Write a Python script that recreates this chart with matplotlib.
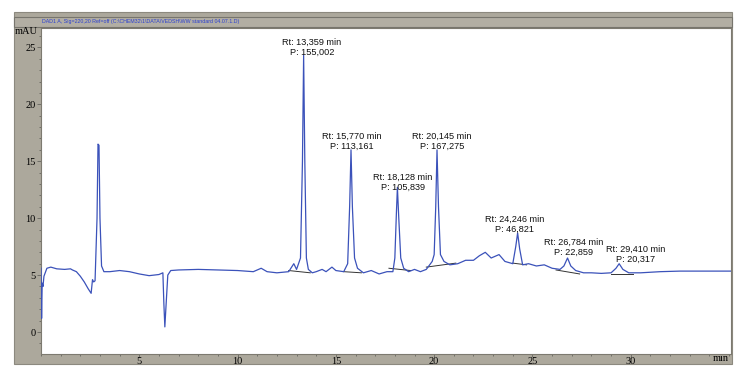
import matplotlib
matplotlib.use("Agg")
import matplotlib.pyplot as plt
from matplotlib.patches import Rectangle
from matplotlib.ticker import MultipleLocator

# chromatogram trace (time in min, signal in mAU)
time = [0.00, 0.03, 0.06, 0.10, 0.15, 0.30, 0.50, 0.80, 1.20, 1.50, 1.60, 1.80, 2.00, 2.20, 2.40,
        2.55, 2.62, 2.68, 2.75, 2.85, 2.90, 2.95, 3.00, 3.08, 3.20, 3.50, 4.00, 4.50, 5.00, 5.50,
        6.00, 6.20, 6.25, 6.30, 6.35, 6.45, 6.60, 7.00, 8.00, 9.00, 10.0, 10.8, 11.2, 11.5, 12.0,
        12.6, 12.86, 13.0, 13.2, 13.3, 13.36, 13.42, 13.5, 13.6, 13.8, 14.0, 14.3, 14.5, 14.8, 15.0,
        15.4, 15.6, 15.70, 15.77, 15.84, 15.95, 16.1, 16.4, 16.8, 17.2, 17.6, 17.9, 18.0, 18.08, 18.13,
        18.2, 18.3, 18.45, 18.7, 19.0, 19.3, 19.6, 19.9, 20.0, 20.08, 20.145, 20.22, 20.32, 20.5, 20.8,
        21.2, 21.6, 22.0, 22.3, 22.6, 22.9, 23.3, 23.6, 24.0, 24.15, 24.246, 24.35, 24.5, 24.8, 25.2,
        25.6, 26.0, 26.4, 26.6, 26.784, 26.95, 27.2, 27.6, 28.0, 28.5, 29.0, 29.25, 29.41, 29.6, 29.9,
        30.5, 31.5, 32.5, 33.5, 35.1]
signal = [5.6, 1.2, 4.3, 4.0, 4.9, 5.6, 5.7, 5.55, 5.5, 5.55, 5.45, 5.3, 4.9, 4.4, 3.8,
          3.4, 4.6, 4.4, 4.5, 10.0, 16.5, 16.4, 10.0, 5.8, 5.3, 5.3, 5.4, 5.3, 5.1, 4.95,
          5.05, 5.2, 2.5, 0.45, 2.0, 5.0, 5.4, 5.45, 5.5, 5.45, 5.4, 5.3, 5.6, 5.3, 5.2,
          5.3, 6.0, 5.5, 6.5, 15.0, 24.3, 15.0, 6.5, 5.5, 5.2, 5.3, 5.5, 5.3, 5.7, 5.4,
          5.3, 6.0, 11.0, 16.0, 11.0, 6.5, 5.6, 5.2, 5.4, 5.1, 5.3, 5.3, 6.5, 10.5, 12.7,
          10.0, 6.5, 5.6, 5.3, 5.5, 5.3, 5.5, 6.2, 6.8, 11.0, 16.0, 11.0, 6.8, 6.2, 5.9,
          6.0, 6.3, 6.3, 6.7, 7.0, 6.5, 6.8, 6.2, 6.0, 7.5, 8.7, 7.3, 5.9, 6.0, 5.8,
          5.9, 5.6, 5.5, 5.8, 6.5, 5.8, 5.4, 5.2, 5.2, 5.15, 5.2, 5.6, 6.0, 5.5, 5.2,
          5.2, 5.3, 5.35, 5.35, 5.35]

# integrated peaks: retention time, area, label position
peak_rt = [13.359, 15.770, 18.128, 20.145, 24.246, 26.784, 29.410]
peak_area = [155.002, 113.161, 105.839, 167.275, 46.821, 22.859, 20.317]
label_x = [13.78, 15.80, 18.40, 20.40, 24.10, 27.10, 30.25]
label_y = [25.8, 17.6, 14.0, 17.6, 10.3, 8.3, 7.7]

# integration baselines under each peak
base_x0 = [12.6, 15.4, 17.7, 19.6, 24.0, 26.2, 29.0]
base_y0 = [5.4, 5.3, 5.6, 5.7, 6.05, 5.45, 5.1]
base_x1 = [13.7, 16.3, 18.8, 21.1, 24.7, 27.4, 30.1]
base_y1 = [5.2, 5.2, 5.4, 6.05, 5.9, 5.1, 5.1]

title = r"DAD1 A, Sig=220,20 Ref=off (C:\CHEM32\1\DATA\VEDSH\WW standard 04.07.1.D)"

W, H = 749, 380
fig = plt.figure(figsize=(W / 100, H / 100), dpi=100, facecolor="white")

# gray instrument frame + title bar (drawn on a background axes)
bg = fig.add_axes([0, 0, 1, 1], zorder=0)
bg.set_xlim(0, W)
bg.set_ylim(H, 0)
bg.axis("off")
bg.add_patch(Rectangle((14, 12), 732 - 14, 364 - 12, facecolor="#aca89c",
                       edgecolor="#8c897f", linewidth=0.8))
bg.add_patch(Rectangle((14, 17), 732 - 14, 10, facecolor="#b2aea3",
                       edgecolor="#77756d", linewidth=0.8))
bg.text(42, 22, title, color="#2b3fd0", fontsize=3.8, family="Liberation Sans",
        va="center", ha="left")
bg.text(38, 32, "mAU", fontsize=7.5, family="Liberation Serif", ha="right", va="center")
bg.text(729, 358.5, "min", fontsize=7.5, family="Liberation Serif", ha="right", va="center")

ax = fig.add_axes([41 / W, 1 - 354 / H, (731 - 41) / W, (354 - 28) / H], zorder=2)
ax.set_facecolor("white")
ax.plot(time, signal, color="#3b52ba", linewidth=0.9, zorder=3)
for x0, y0, x1, y1 in zip(base_x0, base_y0, base_x1, base_y1):
    ax.plot([x0, x1], [y0, y1], color="#333333", linewidth=0.7, zorder=2)

for rt, area, lx, ly in zip(peak_rt, peak_area, label_x, label_y):
    txt = "Rt: " + f"{rt:.3f}".replace(".", ",") + " min\nP: " + f"{area:.3f}".replace(".", ",")
    ax.text(lx, ly, txt, ha="center", va="top", fontsize=6.6, family="Liberation Sans",
            linespacing=1.15, color="#111111", zorder=4)

ax.set_xlim(0, 35.1)
ax.set_ylim(-1.93, 26.7)
ax.set_xticks([5, 10, 15, 20, 25, 30])
ax.xaxis.set_minor_locator(MultipleLocator(1))
ax.yaxis.set_major_locator(MultipleLocator(5))
ax.yaxis.set_minor_locator(MultipleLocator(1))
ax.tick_params(which="both", direction="out", color="#666660", width=0.6)
ax.tick_params(which="major", length=3, labelsize=7.5)
ax.tick_params(which="minor", length=1.5)
ax.tick_params(axis="x", which="major", length=2, pad=0)
ax.tick_params(axis="y", which="major", pad=1)
for lab in ax.get_xticklabels() + ax.get_yticklabels():
    lab.set_family("Liberation Serif")
for s in ax.spines.values():
    s.set_color("#7d7a70")
    s.set_linewidth(0.8)

fig.savefig("out.png", dpi=100, facecolor="white")
